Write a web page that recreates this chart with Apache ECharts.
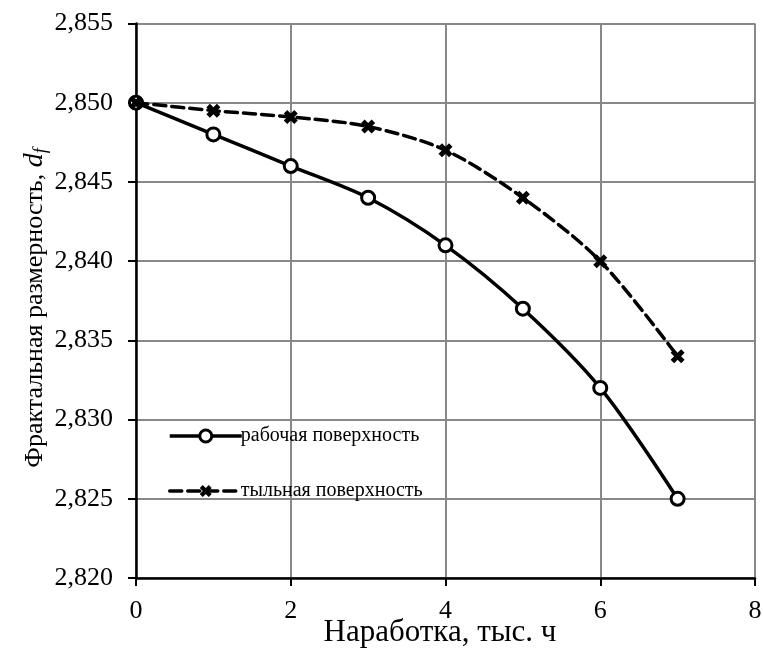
<!DOCTYPE html>
<html><head><meta charset="utf-8">
<script src="https://cdn.jsdelivr.net/npm/echarts@6/dist/echarts.min.js"></script>
<style>html,body{margin:0;padding:0;background:#fff}#c{width:763px;height:648px}</style>
</head><body><div id="c"></div>
<script>
const hours = [0, 1, 2, 3, 4, 5, 6, 7];
const working = [2.850, 2.848, 2.846, 2.844, 2.841, 2.837, 2.832, 2.825];
const back = [2.850, 2.8495, 2.8491, 2.8485, 2.847, 2.844, 2.840, 2.834];
const seriesNames = ['рабочая поверхность', 'тыльная поверхность'];
const xTitle = 'Наработка, тыс. ч';

const FONT = 'Liberation Serif';
const cross = 'path://M0,2.5 L2.5,0 L5,2.5 L7.5,0 L10,2.5 L7.5,5 L10,7.5 L7.5,10 L5,7.5 L2.5,10 L0,7.5 L2.5,5 Z';
const chart = echarts.init(document.getElementById('c'));
chart.setOption({
  animation: false,
  backgroundColor: '#fff',
  grid: {left: 136, right: 8, top: 23.5, bottom: 70, containLabel: false, outerBoundsMode: 'none'},
  legend: {
    orient: 'vertical', left: 163, top: 421, itemWidth: 72, itemHeight: 15, itemGap: 35,
    textStyle: {fontFamily: FONT, fontSize: 20, color: '#000', padding: [0, 0, 0, -6]},
    data: [
      {name: seriesNames[0], lineStyle: {width: 3.5}, itemStyle: {borderWidth: 3}},
      {name: seriesNames[1], lineStyle: {width: 3.5}}
    ]
  },
  xAxis: {
    type: 'value', min: 0, max: 8, interval: 2,
    axisLine: {lineStyle: {color: '#000', width: 2.5}},
    axisTick: {show: true, length: 8, lineStyle: {color: '#000', width: 2}},
    axisLabel: {fontFamily: FONT, fontSize: 26, color: '#000', margin: 20},
    splitLine: {show: true, lineStyle: {color: '#888', width: 2}}
  },
  yAxis: {
    type: 'value', min: 2.820, max: 2.855, interval: 0.005,
    axisLine: {show: true, lineStyle: {color: '#000', width: 2.5}},
    axisTick: {show: true, length: 8, lineStyle: {color: '#000', width: 2}},
    axisLabel: {fontFamily: FONT, fontSize: 26, color: '#000', margin: 23,
      formatter: v => v.toFixed(3).replace('.', ',')},
    splitLine: {show: true, lineStyle: {color: '#888', width: 2}}
  },
  graphic: [{
    type: 'text', x: 35, y: 308, rotation: Math.PI / 2,
    style: {
      text: 'Фрактальная размерность, {i|d}{s|f}',
      fontFamily: FONT, fontSize: 26, fill: '#000', align: 'center', verticalAlign: 'middle',
      rich: {
        i: {fontFamily: FONT, fontSize: 28, fontStyle: 'italic', fill: '#000'},
        s: {fontFamily: FONT, fontSize: 18, fontStyle: 'italic', fill: '#000', padding: [12, 0, 0, 0]}
      }
    }
  }, {
    type: 'text', x: 440, y: 633,
    style: {text: xTitle, fontFamily: FONT, fontSize: 31, fill: '#000', align: 'center', verticalAlign: 'middle'}
  }],
  series: [
    {
      name: seriesNames[0], type: 'line', smooth: 0.3,
      data: hours.map((h, i) => [h, working[i]]),
      symbol: 'circle', symbolSize: 13,
      lineStyle: {color: '#000', width: 3.5},
      itemStyle: {color: '#fff', borderColor: '#000', borderWidth: 3},
      z: 2
    },
    {
      name: seriesNames[1], type: 'line', smooth: 0.3,
      data: hours.map((h, i) => [h, back[i]]),
      symbol: cross, symbolSize: 14,
      lineStyle: {color: '#000', width: 3.5, type: [12, 6], cap: 'round'},
      itemStyle: {color: '#000', borderWidth: 0},
      z: 3
    }
  ]
});
</script></body></html>
